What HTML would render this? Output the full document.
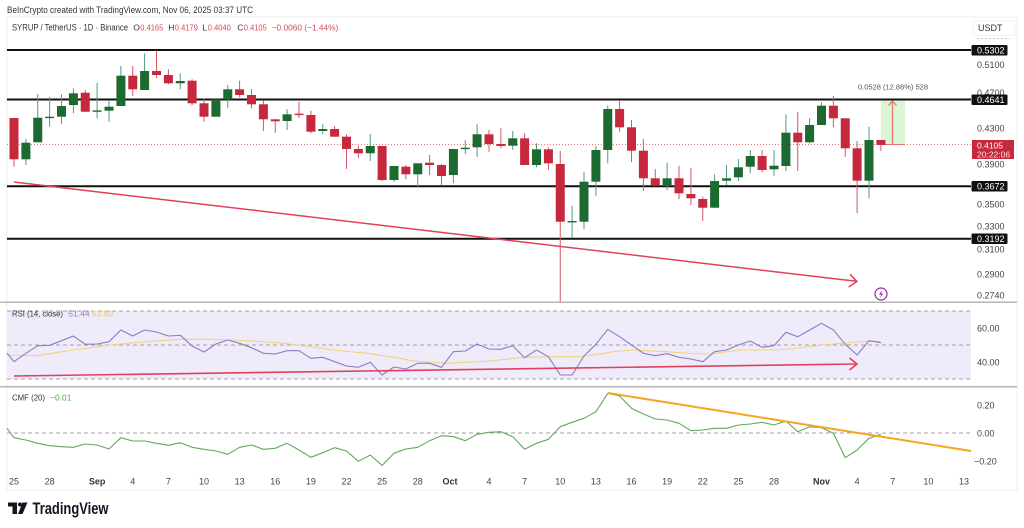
<!DOCTYPE html>
<html>
<head>
<meta charset="utf-8">
<style>
html,body{margin:0;padding:0;background:#fff;}
svg{display:block;font-family:"Liberation Sans",Arial,sans-serif;}
</style>
</head>
<body>
<svg width="1024" height="528" viewBox="0 0 1024 528" xmlns="http://www.w3.org/2000/svg">
<defs>
<clipPath id="mc"><rect x="7" y="17" width="964" height="285"/></clipPath>
</defs>
<rect width="1024" height="528" fill="#fff"/>
<!-- frame -->
<rect x="7" y="17" width="1010" height="473" fill="none" stroke="#ececec" stroke-width="1"/>

<!-- header -->
<text x="7" y="13" font-size="9" fill="#333" textLength="246" lengthAdjust="spacingAndGlyphs">BeInCrypto created with TradingView.com, Nov 06, 2025 03:37 UTC</text>
<text x="12" y="30.5" font-size="9" fill="#333" textLength="116" lengthAdjust="spacingAndGlyphs">SYRUP / TetherUS · 1D · Binance</text>
<g font-size="8.5">
<text x="133.3" y="30.5" fill="#333">O</text><text x="140.3" y="30.5" fill="#d9485a" textLength="23" lengthAdjust="spacingAndGlyphs">0.4165</text>
<text x="168.3" y="30.5" fill="#333">H</text><text x="174.8" y="30.5" fill="#d9485a" textLength="23" lengthAdjust="spacingAndGlyphs">0.4179</text>
<text x="202.3" y="30.5" fill="#333">L</text><text x="207.8" y="30.5" fill="#d9485a" textLength="23" lengthAdjust="spacingAndGlyphs">0.4040</text>
<text x="237.3" y="30.5" fill="#333">C</text><text x="243.8" y="30.5" fill="#d9485a" textLength="23" lengthAdjust="spacingAndGlyphs">0.4105</text>
<text x="271.7" y="30.5" fill="#d9485a" textLength="66.6" lengthAdjust="spacingAndGlyphs">−0.0060 (−1.44%)</text>
</g>

<!-- main chart -->
<g clip-path="url(#mc)">
<line x1="7" y1="144.5" x2="971" y2="144.5" stroke="#e57373" stroke-width="1" stroke-dasharray="1,2"/>
<rect x="880.7" y="100" width="24.3" height="44.5" fill="#dcf5d4"/>
<line x1="880" y1="144.5" x2="905" y2="144.5" stroke="#e57373" stroke-width="1"/>
<line x1="892.5" y1="144" x2="892.5" y2="101" stroke="#e57373" stroke-width="1.2"/>
<polyline points="888.5,105.5 892.5,101 896.5,105.5" fill="none" stroke="#e57373" stroke-width="1.2"/>

<g stroke="#111" stroke-width="2">
<line x1="7" y1="50" x2="971" y2="50"/>
<line x1="7" y1="99.5" x2="971" y2="99.5"/>
<line x1="7" y1="186.3" x2="971" y2="186.3"/>
<line x1="7" y1="238.7" x2="971" y2="238.7"/>
</g>

<line x1="14" y1="182" x2="856" y2="281.3" stroke="#e0405a" stroke-width="1.5"/>
<polyline points="850,274.3 857,281.5 848.6,287" fill="none" stroke="#e0405a" stroke-width="1.5"/>

<g stroke="#d65567" stroke-width="1">
<line x1="14" y1="118" x2="14" y2="166.7"/>
<line x1="85.25" y1="90" x2="85.25" y2="111.7"/>
<line x1="132.75" y1="66" x2="132.75" y2="96"/>
<line x1="156.5" y1="50.7" x2="156.5" y2="78.3"/>
<line x1="168.4" y1="69.3" x2="168.4" y2="84.3"/>
<line x1="192.1" y1="79.3" x2="192.1" y2="105"/>
<line x1="204" y1="98.3" x2="204" y2="121.7"/>
<line x1="239.6" y1="80.7" x2="239.6" y2="97.3"/>
<line x1="251.5" y1="89.3" x2="251.5" y2="108.3"/>
<line x1="263.4" y1="100.7" x2="263.4" y2="131"/>
<line x1="275.25" y1="119.3" x2="275.25" y2="132.7"/>
<line x1="299" y1="101.7" x2="299" y2="118"/>
<line x1="310.9" y1="110.7" x2="310.9" y2="133.3"/>
<line x1="334.6" y1="126" x2="334.6" y2="136.7"/>
<line x1="346.5" y1="134.3" x2="346.5" y2="169"/>
<line x1="358.4" y1="146" x2="358.4" y2="158.3"/>
<line x1="382.1" y1="146" x2="382.1" y2="181"/>
<line x1="405.9" y1="165" x2="405.9" y2="179.3"/>
<line x1="429.6" y1="155" x2="429.6" y2="175"/>
<line x1="441.5" y1="164" x2="441.5" y2="185.7"/>
<line x1="489" y1="130" x2="489" y2="151.7"/>
<line x1="500.9" y1="128.3" x2="500.9" y2="148.3"/>
<line x1="524.6" y1="133.3" x2="524.6" y2="165"/>
<line x1="548.4" y1="147.3" x2="548.4" y2="170"/>
<line x1="560.25" y1="151" x2="560.25" y2="302"/>
<line x1="619.6" y1="100" x2="619.6" y2="131.7"/>
<line x1="631.5" y1="120" x2="631.5" y2="162.3"/>
<line x1="643.4" y1="139" x2="643.4" y2="191"/>
<line x1="655.25" y1="169" x2="655.25" y2="185"/>
<line x1="679" y1="165.7" x2="679" y2="199"/>
<line x1="690.9" y1="167.7" x2="690.9" y2="205"/>
<line x1="702.75" y1="196.7" x2="702.75" y2="221"/>
<line x1="762.1" y1="150" x2="762.1" y2="172.3"/>
<line x1="797.75" y1="111.7" x2="797.75" y2="171"/>
<line x1="833.4" y1="96" x2="833.4" y2="127.3"/>
<line x1="845.25" y1="118.3" x2="845.25" y2="156.7"/>
<line x1="857.1" y1="141" x2="857.1" y2="213.3"/>
<line x1="880.9" y1="140" x2="880.9" y2="151"/>
</g>
<g stroke="#4f9c7e" stroke-width="1">
<line x1="25.9" y1="139" x2="25.9" y2="165"/>
<line x1="37.75" y1="94" x2="37.75" y2="142.3"/>
<line x1="49.6" y1="96.7" x2="49.6" y2="126.7"/>
<line x1="61.5" y1="94.3" x2="61.5" y2="124"/>
<line x1="73.4" y1="88.3" x2="73.4" y2="113.3"/>
<line x1="97.1" y1="82.7" x2="97.1" y2="118.3"/>
<line x1="109" y1="100" x2="109" y2="121.7"/>
<line x1="120.9" y1="66" x2="120.9" y2="106"/>
<line x1="144.6" y1="53.3" x2="144.6" y2="90"/>
<line x1="180.25" y1="73.3" x2="180.25" y2="89.3"/>
<line x1="227.75" y1="85" x2="227.75" y2="107.7"/>
<line x1="287.1" y1="109.3" x2="287.1" y2="130"/>
<line x1="322.75" y1="124.3" x2="322.75" y2="134"/>
<line x1="370.25" y1="134" x2="370.25" y2="161"/>
<line x1="394" y1="166" x2="394" y2="181.7"/>
<line x1="417.75" y1="163.3" x2="417.75" y2="186.7"/>
<line x1="453.4" y1="149" x2="453.4" y2="183.3"/>
<line x1="465.25" y1="140" x2="465.25" y2="154"/>
<line x1="477.1" y1="124.3" x2="477.1" y2="156.7"/>
<line x1="512.75" y1="131" x2="512.75" y2="150"/>
<line x1="536.5" y1="143.3" x2="536.5" y2="167.3"/>
<line x1="572.1" y1="205.7" x2="572.1" y2="238.3"/>
<line x1="584" y1="171.7" x2="584" y2="229"/>
<line x1="595.9" y1="146" x2="595.9" y2="196"/>
<line x1="607.75" y1="105.7" x2="607.75" y2="163.3"/>
<line x1="667.1" y1="162.7" x2="667.1" y2="190"/>
<line x1="714.6" y1="174.3" x2="714.6" y2="207.7"/>
<line x1="726.5" y1="165" x2="726.5" y2="185"/>
<line x1="738.4" y1="159" x2="738.4" y2="181"/>
<line x1="750.25" y1="150" x2="750.25" y2="173.3"/>
<line x1="774" y1="150" x2="774" y2="175.7"/>
<line x1="785.9" y1="114.3" x2="785.9" y2="171"/>
<line x1="809.6" y1="118.3" x2="809.6" y2="143.3"/>
<line x1="821.5" y1="102.3" x2="821.5" y2="125"/>
<line x1="869" y1="126.7" x2="869" y2="198.3"/>
</g>

<g fill="#c6283e">
<rect x="0" y="100" width="7" height="18"/>
<rect x="9.5" y="118" width="9" height="41.3"/>
<rect x="80.75" y="92.7" width="9" height="19"/>
<rect x="128.25" y="75.7" width="9" height="13.6"/>
<rect x="152" y="71" width="9" height="4"/>
<rect x="163.9" y="75" width="9" height="8.3"/>
<rect x="187.6" y="80.7" width="9" height="22.6"/>
<rect x="199.5" y="103.3" width="9" height="13.4"/>
<rect x="235.1" y="89.3" width="9" height="5.7"/>
<rect x="247" y="95" width="9" height="9.3"/>
<rect x="258.9" y="104.3" width="9" height="15"/>
<rect x="270.75" y="119.3" width="9" height="2"/>
<rect x="294.5" y="113.7" width="9" height="1.4"/>
<rect x="306.4" y="115" width="9" height="16.7"/>
<rect x="330.1" y="129" width="9" height="7.7"/>
<rect x="342" y="136.7" width="9" height="12.3"/>
<rect x="353.9" y="149" width="9" height="4.3"/>
<rect x="377.6" y="146" width="9" height="34"/>
<rect x="401.4" y="166.7" width="9" height="7.6"/>
<rect x="425.1" y="162.7" width="9" height="2.3"/>
<rect x="437" y="165" width="9" height="11"/>
<rect x="484.5" y="134.3" width="9" height="9.7"/>
<rect x="496.4" y="144" width="9" height="2"/>
<rect x="520.1" y="138.3" width="9" height="26.7"/>
<rect x="543.9" y="149.3" width="9" height="14"/>
<rect x="555.75" y="164" width="9" height="57.7"/>
<rect x="615.1" y="109" width="9" height="18.3"/>
<rect x="627" y="127.3" width="9" height="23.4"/>
<rect x="638.9" y="150.7" width="9" height="27.6"/>
<rect x="650.75" y="178.3" width="9" height="6.7"/>
<rect x="674.5" y="178.3" width="9" height="15"/>
<rect x="686.4" y="194" width="9" height="4.3"/>
<rect x="698.25" y="199" width="9" height="8.7"/>
<rect x="757.6" y="156" width="9" height="14"/>
<rect x="793.25" y="132.7" width="9" height="9.6"/>
<rect x="828.9" y="105.7" width="9" height="12.6"/>
<rect x="840.75" y="118.3" width="9" height="30"/>
<rect x="852.6" y="148.3" width="9" height="32.4"/>
<rect x="876.4" y="140" width="9" height="5"/>
</g>
<g fill="#1d6a30">
<rect x="21.4" y="142.7" width="9" height="16.6"/>
<rect x="33.25" y="117.7" width="9" height="24.6"/>
<rect x="45.1" y="116.7" width="9" height="1.4"/>
<rect x="57" y="106" width="9" height="10.7"/>
<rect x="68.9" y="93.3" width="9" height="11.7"/>
<rect x="92.6" y="110.4" width="9" height="1.4"/>
<rect x="104.5" y="106.7" width="9" height="4"/>
<rect x="116.4" y="75.7" width="9" height="30.3"/>
<rect x="140.1" y="71" width="9" height="19"/>
<rect x="175.75" y="81" width="9" height="2.3"/>
<rect x="211.4" y="99.3" width="9" height="17.4"/>
<rect x="223.25" y="89.3" width="9" height="10"/>
<rect x="282.6" y="114.3" width="9" height="6.7"/>
<rect x="318.25" y="129" width="9" height="2"/>
<rect x="365.75" y="146" width="9" height="7.3"/>
<rect x="389.5" y="166" width="9" height="14"/>
<rect x="413.25" y="163.3" width="9" height="11"/>
<rect x="448.9" y="149" width="9" height="26"/>
<rect x="460.75" y="147.7" width="9" height="1.4"/>
<rect x="472.6" y="134.3" width="9" height="13"/>
<rect x="508.25" y="138.3" width="9" height="7.4"/>
<rect x="532" y="149.3" width="9" height="15.7"/>
<rect x="567.6" y="221" width="9" height="1.4"/>
<rect x="579.5" y="181.7" width="9" height="40"/>
<rect x="591.4" y="150" width="9" height="31.7"/>
<rect x="603.25" y="109" width="9" height="41"/>
<rect x="662.6" y="178.3" width="9" height="6.7"/>
<rect x="710.1" y="181" width="9" height="26.7"/>
<rect x="722" y="178.3" width="9" height="2.4"/>
<rect x="733.9" y="167.3" width="9" height="10"/>
<rect x="745.75" y="156" width="9" height="10.7"/>
<rect x="769.5" y="165.7" width="9" height="3.6"/>
<rect x="781.4" y="132.7" width="9" height="33.3"/>
<rect x="805.1" y="125" width="9" height="17.3"/>
<rect x="817" y="105.7" width="9" height="19.3"/>
<rect x="864.5" y="140" width="9" height="40.7"/>
</g>

<circle cx="881" cy="294" r="6" fill="#fff" stroke="#9c27b0" stroke-width="1.2"/>
<path d="M882.3,289.8 L879,294.6 L881.2,294.6 L879.8,298.3 L883.2,293.4 L881,293.4 Z" fill="#9c27b0"/>
</g>

<text x="893" y="89.5" font-size="7.5" fill="#555" text-anchor="middle">0.0528 (12.86%) 528</text>

<!-- price axis -->
<rect x="973" y="21" width="42" height="14" fill="#fff" stroke="#f0f0f0"/>
<text x="978" y="31" font-size="9" fill="#333">USDT</text>
<line x1="977" y1="38.5" x2="1010" y2="38.5" stroke="#ccc" stroke-dasharray="2,2"/>
<g font-size="9" fill="#444">
<text x="977" y="68">0.5100</text>
<text x="977" y="96">0.4700</text>
<text x="977" y="131.5">0.4300</text>
<text x="977" y="167.5">0.3900</text>
<text x="977" y="207.5">0.3500</text>
<text x="977" y="229.5">0.3300</text>
<text x="977" y="252.5">0.3100</text>
<text x="977" y="277.5">0.2900</text>
<text x="977" y="298.5">0.2740</text>
</g>
<g>
<rect x="971.5" y="45" width="36" height="10.5" fill="#111" rx="1"/>
<rect x="971.5" y="94.5" width="36" height="10.5" fill="#111" rx="1"/>
<rect x="971.5" y="181" width="36" height="10.5" fill="#111" rx="1"/>
<rect x="971.5" y="233.5" width="36" height="10.5" fill="#111" rx="1"/>
</g>
<g font-size="9" fill="#fff">
<text x="977" y="53.5">0.5302</text>
<text x="977" y="103">0.4641</text>
<text x="977" y="189.5">0.3672</text>
<text x="977" y="242">0.3192</text>
</g>
<rect x="972" y="140" width="42" height="19" fill="#c6283e"/>
<text x="977" y="148.5" font-size="8.5" fill="#fff">0.4105</text>
<text x="977" y="157.5" font-size="8.5" fill="#fbdde1">20:22:06</text>

<line x1="0" y1="302.3" x2="1017" y2="302.3" stroke="#b5b5b5" stroke-width="1.5"/>
<line x1="0" y1="386.7" x2="1017" y2="386.7" stroke="#b5b5b5" stroke-width="1.5"/>

<!-- RSI panel -->
<rect x="7" y="311" width="964" height="68" fill="#efebfa"/>
<g stroke="#a0a0a0" stroke-width="1" stroke-dasharray="4,3">
<line x1="7" y1="311" x2="971" y2="311"/>
<line x1="7" y1="345" x2="971" y2="345"/>
<line x1="7" y1="379" x2="971" y2="379"/>
</g>
<polyline fill="none" stroke="#f0d478" stroke-width="1.1" stroke-linejoin="round" points="7,355 37,355.7 73,350 110,345 147,341.7 180,339.3 210,339.3 233,340 260,341.5 283,343.3 310,346.5 333,350 367,353.3 400,358.3 413,361 447,363.3 490,361 523,357.3 557,356.7 580,356.7 600,354 613,351.7 633,350 667,351.7 690,353.5 710,354 740,350 773,350 790,349 823,345 840,343.3 870,341 880,341.7"/>
<polyline fill="none" stroke="#8e7cc3" stroke-width="1.1" stroke-linejoin="round" points="7,353 14,361.7 25.9,353.3 37.8,345.7 49.6,345.3 61.5,340.7 73.4,336 85.3,344.3 97.1,344 109,341.7 120.9,330 132.8,336 144.6,330 156.5,332 168.4,336 180.3,335.3 192.1,346 204,352 215.9,344 227.8,340 239.6,343.3 251.5,347.7 263.4,353.3 275.3,354 287.1,350.7 299,350.7 310.9,358.3 322.8,357.3 334.6,361.7 346.5,366 358.4,367.3 370.3,362.3 382.1,375 394,367 405.9,369 417.8,363.3 429.6,363.3 441.5,367.3 453.4,351.7 465.3,351 477.1,344 489,349 500.9,349.3 512.8,345.7 524.6,357.7 536.5,350 548.4,356.7 560.3,375 572.1,375 584,356 595.9,344.3 607.8,329.3 619.6,336.7 631.5,345 643.4,353.3 655.3,355.7 667.1,353.7 679,357.3 690.9,359 702.8,361.7 714.6,351.7 726.5,350 738.4,345 750.3,341 762.1,347.3 774,345.7 785.9,332.3 797.8,336.7 809.6,330 821.5,323.3 833.4,330 845.3,344.3 857.1,355 869,340.7 880.9,342.7"/>
<line x1="14" y1="376" x2="856" y2="364" stroke="#e0405a" stroke-width="1.6"/>
<polyline points="849.5,358 857,364 849.5,370" fill="none" stroke="#e0405a" stroke-width="1.6"/>
<text x="12" y="316.5" font-size="8.5" fill="#333" textLength="51" lengthAdjust="spacingAndGlyphs">RSI (14, close)</text>
<text x="68.3" y="316.5" font-size="8.5" fill="#8e7cc3">51.44</text>
<text x="91.7" y="316.5" font-size="8.5" fill="#edcd5a">53.80</text>
<g font-size="9" fill="#444">
<text x="977" y="331.5">60.00</text>
<text x="977" y="365.5">40.00</text>
</g>

<!-- CMF panel -->
<line x1="7" y1="433" x2="971" y2="433" stroke="#a0a0a0" stroke-width="1" stroke-dasharray="4,3"/>
<polyline fill="none" stroke="#62a95c" stroke-width="1.1" stroke-linejoin="round" points="7,428.3 14,437.7 25.9,440 37.8,443.3 49.6,445.7 61.5,446.7 73.4,447.3 85.3,444 97.1,445 109,449 120.9,437.7 132.8,441 144.6,441 156.5,443.3 168.4,445.3 180.3,442.7 192.1,447.3 204,449.3 215.9,451 227.8,454.3 239.6,447.3 251.5,445 263.4,449.3 275.3,448.3 287.1,443.3 299,450 310.9,457.3 322.8,452.7 334.6,447.7 346.5,451 358.4,461.3 370.3,455 382.1,465.5 394,453.3 405.9,449 417.8,447.3 429.6,440.7 441.5,435.7 453.4,436.7 465.3,440.7 477.1,434.3 489,432.3 500.9,431.7 512.8,436.7 524.6,449.3 536.5,443.3 548.4,439.3 560.3,426.7 572.1,422.3 584,418.3 595.9,411.7 607.8,393.3 619.6,396 631.5,408.3 643.4,414 655.3,419 667.1,420 679,423.3 690.9,430.7 702.8,430 714.6,428.3 726.5,428.3 738.4,425 750.3,424 762.1,422.3 774,425 785.9,421 797.8,431.7 809.6,426.7 821.5,427.7 833.4,433.3 845.3,457.7 857.1,450 869,438.3 880.9,434.3"/>
<line x1="608" y1="393" x2="971" y2="451" stroke="#f5a623" stroke-width="2"/>
<text x="12" y="400.5" font-size="8.5" fill="#333" textLength="33" lengthAdjust="spacingAndGlyphs">CMF (20)</text>
<text x="50" y="400.5" font-size="8.5" fill="#4caf50">−0.01</text>
<g font-size="9" fill="#444">
<text x="977" y="408.5">0.20</text>
<text x="977" y="436.5">0.00</text>
<text x="974" y="464.5">−0.20</text>
</g>

<!-- time axis -->
<g font-size="9" fill="#444" text-anchor="middle">
<text x="14" y="484.5">25</text>
<text x="49.6" y="484.5">28</text>
<text x="97.1" y="484.5" font-weight="bold" fill="#333">Sep</text>
<text x="132.8" y="484.5">4</text>
<text x="168.4" y="484.5">7</text>
<text x="204" y="484.5">10</text>
<text x="239.6" y="484.5">13</text>
<text x="275.3" y="484.5">16</text>
<text x="310.9" y="484.5">19</text>
<text x="346.5" y="484.5">22</text>
<text x="382.1" y="484.5">25</text>
<text x="417.8" y="484.5">28</text>
<text x="450" y="484.5" font-weight="bold" fill="#333">Oct</text>
<text x="489" y="484.5">4</text>
<text x="524.6" y="484.5">7</text>
<text x="560.3" y="484.5">10</text>
<text x="595.9" y="484.5">13</text>
<text x="631.5" y="484.5">16</text>
<text x="667.1" y="484.5">19</text>
<text x="702.8" y="484.5">22</text>
<text x="738.4" y="484.5">25</text>
<text x="774" y="484.5">28</text>
<text x="821.5" y="484.5" font-weight="bold" fill="#333">Nov</text>
<text x="857.1" y="484.5">4</text>
<text x="892.8" y="484.5">7</text>
<text x="928.4" y="484.5">10</text>
<text x="964" y="484.5">13</text>
</g>

<!-- TradingView logo -->
<g fill="#131722">
<rect x="8" y="502.5" width="9" height="4"/>
<rect x="12.5" y="502.5" width="4.5" height="11.5"/>
<circle cx="20" cy="504.5" r="2"/>
<polygon points="22.5,502.5 27.5,502.5 22.5,514 18,514"/>
</g>
<text x="32.5" y="514" font-size="16.5" font-weight="bold" fill="#131722" textLength="76" lengthAdjust="spacingAndGlyphs">TradingView</text>
</svg>
</body>
</html>
